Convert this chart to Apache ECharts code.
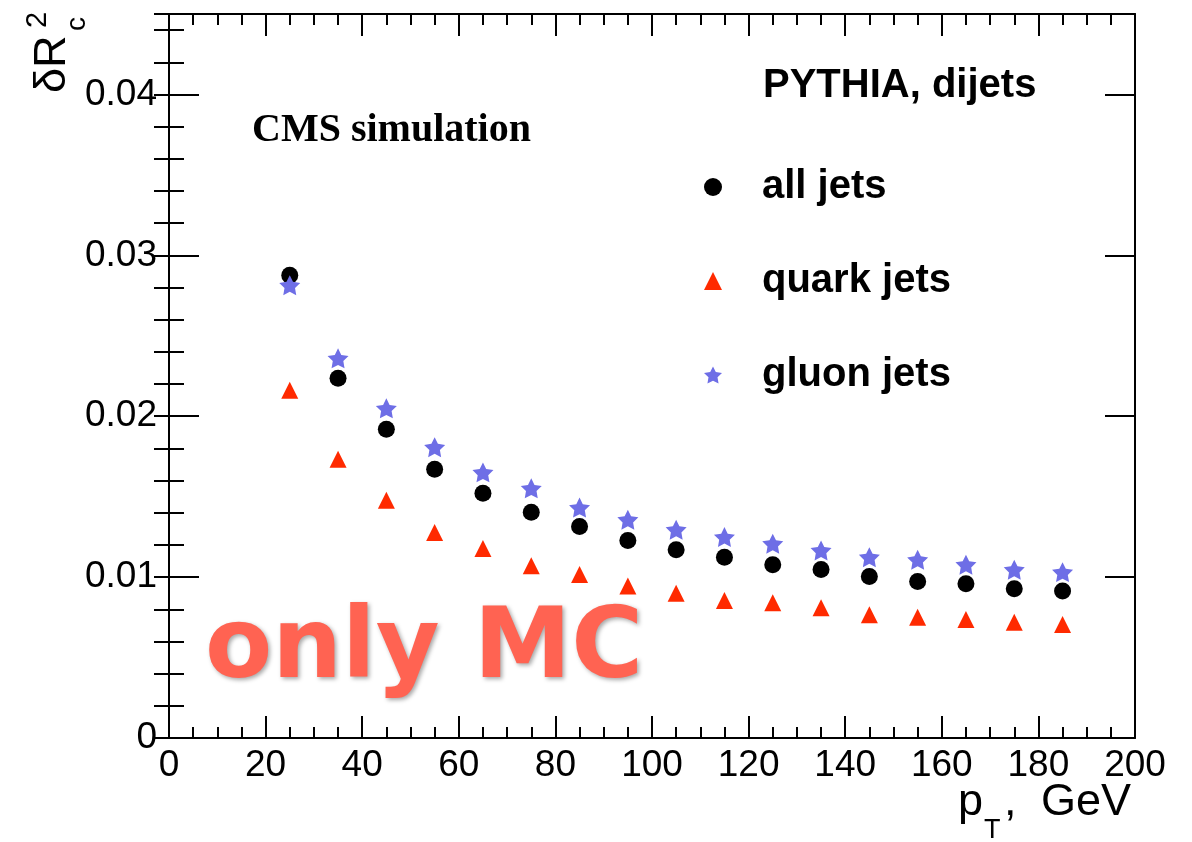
<!DOCTYPE html>
<html>
<head>
<meta charset="utf-8">
<script src="https://cdn.jsdelivr.net/npm/echarts@6/dist/echarts.min.js"></script>
<style>html,body{margin:0;padding:0;background:#fff;}#c{width:1192px;height:842px;}</style>
</head>
<body>
<div id="c"></div>
<script>
// ---- data ----
const ptBins = [25, 35, 45, 55, 65, 75, 85, 95, 105, 115, 125, 135, 145, 155, 165, 175, 185];
const allJets = [0.02876, 0.02236, 0.01919, 0.01670, 0.01521, 0.01403, 0.01315, 0.01228, 0.01170, 0.01124, 0.01077, 0.01048, 0.01004, 0.00973, 0.00959, 0.00928, 0.00913];
const quarkJets = [0.02161, 0.01732, 0.01477, 0.01278, 0.01178, 0.01070, 0.01017, 0.00944, 0.00900, 0.00855, 0.00841, 0.00810, 0.00766, 0.00751, 0.00737, 0.00720, 0.00706];
const gluonJets = [0.02814, 0.02360, 0.02049, 0.01807, 0.01651, 0.01552, 0.01432, 0.01357, 0.01295, 0.01249, 0.01208, 0.01166, 0.01124, 0.01108, 0.01077, 0.01046, 0.01031];
const seriesNames = ['all jets', 'quark jets', 'gluon jets'];
const xMin = 0, xMax = 200, xStep = 20;
const yMin = 0, yMax = 0.045, yStep = 0.01, yMinorStep = 0.002;

const starPath = 'path://M100,0 L129.4,59.5 L195.1,69.1 L147.6,115.5 L158.8,180.9 L100,150 L41.2,180.9 L52.4,115.5 L4.9,69.1 L70.6,59.5 Z';

function pairs(xs, ys) { return xs.map((x, i) => [x, ys[i]]); }

const SANS = '"Liberation Sans", Arial, Helvetica, sans-serif';
const AX = { color: '#000', width: 2 };

const chart = echarts.init(document.getElementById('c'), null, { renderer: 'canvas' });

const baseX = {
  type: 'value', min: xMin, max: xMax, interval: xStep,
  axisLine: { show: true, onZero: false, lineStyle: AX },
  axisTick: { show: true, inside: true, length: 22, lineStyle: AX },
  minorTick: { show: true, splitNumber: 4, length: 11, lineStyle: AX },
  splitLine: { show: false }, minorSplitLine: { show: false }
};
const baseY = {
  type: 'value', min: yMin, max: yMax, interval: yStep,
  axisLine: { show: true, onZero: false, lineStyle: AX },
  axisTick: { show: true, inside: true, length: 30, lineStyle: AX },
  splitLine: { show: false }
};
const minorY = {
  type: 'value', min: yMin, max: yMax, interval: yMinorStep,
  axisLine: { show: false },
  axisTick: { show: true, inside: true, length: 15, lineStyle: AX },
  axisLabel: { show: false },
  splitLine: { show: false }
};

chart.setOption({
  animation: false,
  backgroundColor: '#fff',
  grid: { left: 169, top: 14, width: 966, height: 724, containLabel: false },
  xAxis: [
    Object.assign({}, baseX, {
      position: 'bottom',
      axisLabel: { show: true, margin: 9, color: '#000', fontSize: 37, fontFamily: SANS }
    }),
    Object.assign({}, baseX, { position: 'top', axisLabel: { show: false } })
  ],
  yAxis: [
    Object.assign({}, baseY, {
      position: 'left',
      axisLabel: {
        show: true, margin: 12, color: '#000', fontSize: 37, fontFamily: SANS,
        formatter: function (v) {
          const k = Math.round(v / yStep);
          if (Math.abs(v - k * yStep) > 1e-9 || v > 0.0401) return '';
          return k === 0 ? '0' : v.toFixed(2);
        }
      }
    }),
    Object.assign({}, minorY, { position: 'left' }),
    Object.assign({}, baseY, { position: 'right', axisLabel: { show: false } }),
    Object.assign({}, minorY, { position: 'right' })
  ],
  legend: {
    orient: 'vertical', left: 699, top: 162,
    itemWidth: 18, itemHeight: 18, itemGap: 54, itemTextGap: 10,
    data: seriesNames,
    itemStyle: { opacity: 1 },
    textStyle: { fontSize: 40, fontWeight: 'bold', fontFamily: SANS, color: '#000', lineHeight: 40, padding: [0, 0, 0, 35] }
  },
  series: [
    {
      name: seriesNames[0], type: 'scatter', xAxisIndex: 0, yAxisIndex: 0,
      symbol: 'circle', symbolSize: 17, itemStyle: { color: '#000', opacity: 1 },
      data: pairs(ptBins, allJets), z: 3
    },
    {
      name: seriesNames[1], type: 'scatter', xAxisIndex: 0, yAxisIndex: 0,
      symbol: 'triangle', symbolSize: 17, itemStyle: { color: '#ff2a00', opacity: 1 },
      data: pairs(ptBins, quarkJets), z: 4
    },
    {
      name: seriesNames[2], type: 'scatter', xAxisIndex: 0, yAxisIndex: 0,
      symbol: starPath, symbolKeepAspect: true, symbolSize: 21, itemStyle: { color: '#6e6ee6', opacity: 1 },
      data: pairs(ptBins, gluonJets), z: 5
    }
  ],
  graphic: [
    { type: 'text', x: 252, y: 131, z: 10, style: { text: 'CMS simulation', fill: '#000', font: 'bold 40px "Liberation Serif", "Times New Roman", serif', align: 'left', verticalAlign: 'middle' } },
    { type: 'text', x: 763, y: 86, z: 10, style: { text: 'PYTHIA, dijets', fill: '#000', font: 'bold 40px ' + SANS, align: 'left', verticalAlign: 'middle' } },
    { type: 'text', x: 958, y: 803, z: 10, style: { text: 'p', fill: '#000', font: '45px ' + SANS, align: 'left', verticalAlign: 'middle' } },
    { type: 'text', x: 984, y: 831, z: 10, style: { text: 'T', fill: '#000', font: '27px ' + SANS, align: 'left', verticalAlign: 'middle' } },
    { type: 'text', x: 1004, y: 803, z: 10, style: { text: ',', fill: '#000', font: '45px ' + SANS, align: 'left', verticalAlign: 'middle' } },
    { type: 'text', x: 1131, y: 803, z: 10, style: { text: 'GeV', fill: '#000', font: '45px ' + SANS, align: 'right', verticalAlign: 'middle' } },
    {
      type: 'group', x: 53, y: 93, rotation: Math.PI / 2, z: 10,
      children: [
        { type: 'text', x: 0, y: 0, style: { text: 'δR', fill: '#000', font: '45px ' + SANS, align: 'left', verticalAlign: 'middle' } },
        { type: 'text', x: 65, y: -15, style: { text: '2', fill: '#000', font: '29px ' + SANS, align: 'left', verticalAlign: 'middle' } },
        { type: 'text', x: 62, y: 24, style: { text: 'c', fill: '#000', font: '28px ' + SANS, align: 'left', verticalAlign: 'middle' } }
      ]
    },
    { type: 'text', x: 205, y: 652, z: 20, style: {
        text: 'only MC', fill: '#ff6352', font: 'bold 98px "DejaVu Sans", Verdana, sans-serif', align: 'left', verticalAlign: 'middle',
        textShadowColor: 'rgba(0,0,0,0.35)', textShadowBlur: 4, textShadowOffsetX: 2, textShadowOffsetY: 2,
        shadowColor: 'rgba(0,0,0,0.35)', shadowBlur: 4, shadowOffsetX: 2, shadowOffsetY: 2 } }
  ]
});
</script>
</body>
</html>
